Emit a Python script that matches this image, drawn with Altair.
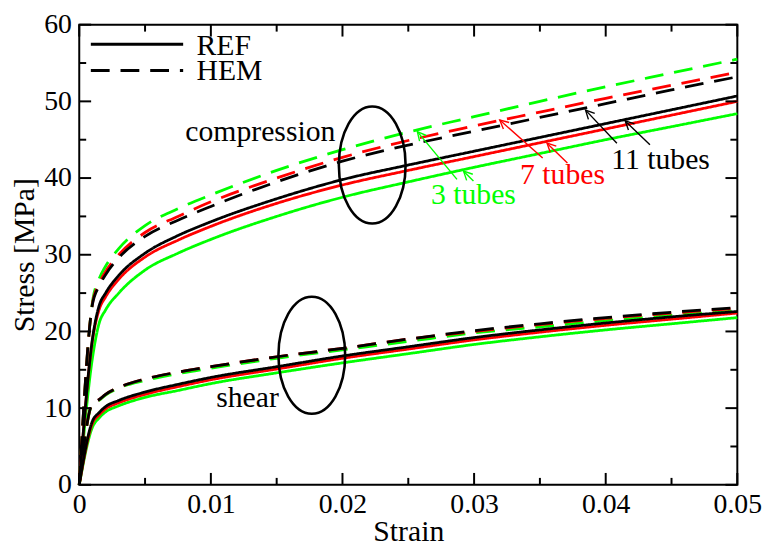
import math
import altair as alt
import pandas as pd

# ---------------- data ----------------
STRAIN = [0, 0.001, 0.0015, 0.002, 0.003, 0.005, 0.0075, 0.01, 0.015,
          0.02, 0.025, 0.03, 0.035, 0.04, 0.045, 0.05]

# compression
COMP_REF_3 = [0, 16.5, 21.0, 22.8, 25.0, 28.0, 30.2, 32.0, 35.0, 37.5, 39.5, 41.4, 43.2, 45.0, 46.7, 48.4]
COMP_REF_7 = [0, 18.8, 22.8, 24.5, 26.8, 29.7, 31.9, 33.7, 36.7, 39.1, 41.0, 42.8, 44.6, 46.4, 48.2, 50.0]
COMP_REF_11 = [0, 19.0, 23.3, 25.0, 27.3, 30.2, 32.5, 34.3, 37.3, 39.8, 41.7, 43.5, 45.3, 47.1, 48.9, 50.7]
COMP_HEM_3 = [0, 23.8, 26.8, 28.5, 30.8, 33.8, 36.0, 37.8, 41.0, 43.7, 46.0, 48.0, 50.0, 51.9, 53.7, 55.5]
COMP_HEM_7 = [0, 23.6, 26.2, 27.8, 30.0, 32.9, 35.0, 36.9, 40.0, 42.7, 44.9, 46.8, 48.6, 50.4, 52.1, 53.8]
COMP_HEM_11 = [0, 23.5, 25.9, 27.4, 29.6, 32.4, 34.5, 36.3, 39.5, 42.2, 44.3, 46.1, 47.9, 49.7, 51.5, 53.2]

# shear
SHEAR_REF_3 = [0, 7.5, 8.7, 9.5, 10.3, 11.4, 12.3, 13.2, 14.6, 15.9, 17.1, 18.3, 19.3, 20.2, 21.0, 21.8]
SHEAR_REF_7 = [0, 8.0, 9.1, 9.9, 10.7, 11.8, 12.8, 13.7, 15.1, 16.5, 17.7, 18.9, 19.9, 20.8, 21.6, 22.4]
SHEAR_REF_11 = [0, 8.3, 9.4, 10.2, 11.0, 12.1, 13.1, 14.0, 15.4, 16.8, 18.0, 19.2, 20.2, 21.1, 21.9, 22.6]
SHEAR_HEM_3 = [0, 10.5, 11.0, 11.7, 12.6, 13.6, 14.5, 15.2, 16.5, 17.6, 18.7, 19.8, 20.6, 21.4, 22.1, 22.7]
SHEAR_HEM_7 = [0, 10.6, 11.1, 11.8, 12.7, 13.8, 14.7, 15.4, 16.7, 17.8, 19.0, 20.0, 20.9, 21.7, 22.4, 23.0]
SHEAR_HEM_11 = [0, 10.6, 11.1, 11.8, 12.7, 13.8, 14.7, 15.4, 16.7, 17.8, 19.0, 20.1, 21.0, 21.8, 22.5, 23.1]

TUBES = [3, 7, 11]
TUBE_COLORS = {3: "#00ff00", 7: "#ff0000", 11: "#000000"}

# annotation texts
LABEL_TEXT = ["compression", "shear", "3 tubes", "7 tubes", "11 tubes"]
LABEL_X = [0.01376, 0.01278, 0.02995, 0.03672, 0.04417]
LABEL_Y = [44.86, 10.15, 36.6, 39.19, 41.12]
LABEL_COLOR = ["#000000", "#000000", "#00ff00", "#ff0000", "#000000"]

# ellipses (centres)
ELL_X = [0.02226, 0.01767]
ELL_Y = [41.7, 16.9]

# arrows: start -> tip
ARR_X1 = [0.02870, 0.02995, 0.03521, 0.03709, 0.04085, 0.04336]
ARR_Y1 = [39.83, 39.61, 42.62, 41.97, 44.55, 44.35]
ARR_X2 = [0.02569, 0.02920, 0.03195, 0.03554, 0.03847, 0.04148]
ARR_Y2 = [46.06, 40.90, 47.57, 44.55, 48.86, 47.45]
ARR_COLOR = ["#00ff00", "#00ff00", "#ff0000", "#ff0000", "#000000", "#000000"]

X_MAJOR = [0, 0.01, 0.02, 0.03, 0.04, 0.05]
X_MINOR = [0.005, 0.015, 0.025, 0.035, 0.045]
Y_MAJOR = [0, 10, 20, 30, 40, 50, 60]
Y_MINOR = [5, 15, 25, 35, 45, 55]

# ---------------- layout ----------------
W, H = 665, 465
XMAX, YMAX = 0.05, 60
FONT = "Liberation Serif"
LW = 2.8
DASH = [19, 11]

series = {
    ("compression", "REF", 3): COMP_REF_3, ("compression", "REF", 7): COMP_REF_7,
    ("compression", "REF", 11): COMP_REF_11, ("compression", "HEM", 3): COMP_HEM_3,
    ("compression", "HEM", 7): COMP_HEM_7, ("compression", "HEM", 11): COMP_HEM_11,
    ("shear", "REF", 3): SHEAR_REF_3, ("shear", "REF", 7): SHEAR_REF_7,
    ("shear", "REF", 11): SHEAR_REF_11, ("shear", "HEM", 3): SHEAR_HEM_3,
    ("shear", "HEM", 7): SHEAR_HEM_7, ("shear", "HEM", 11): SHEAR_HEM_11,
}
rows = []
for (load, model, tubes), vals in series.items():
    for s, v in zip(STRAIN, vals):
        rows.append({"strain": s, "stress": v, "load": load, "model": model,
                     "tubes": tubes, "key": f"{load}-{model}"})
df = pd.DataFrame(rows)

x_scale = alt.Scale(domain=[0, XMAX], nice=False, zero=False)
y_scale = alt.Scale(domain=[0, YMAX], nice=False, zero=False)

x_axis = alt.Axis(values=X_MAJOR, format="~g", title="Strain", grid=False,
                  ticks=False, domain=False, labelFont=FONT, labelFontSize=28,
                  labelColor="black", labelPadding=6, labelFlush=False,
                  titleFont=FONT, titleFontSize=30, titleFontWeight="normal",
                  titleColor="black", titleX=W / 2, titleY=56.3,
                  titleBaseline="alphabetic", titleAlign="center")
y_axis = alt.Axis(values=Y_MAJOR, title="Stress [MPa]", grid=False,
                  ticks=False, domain=False, labelFont=FONT, labelFontSize=28,
                  labelColor="black", labelPadding=8, labelFlush=False,
                  titleFont=FONT, titleFontSize=30, titleFontWeight="normal",
                  titleColor="black", titleAngle=270, titleX=-46, titleY=H / 2,
                  titleBaseline="alphabetic", titleAlign="center")

layers = []
for t in TUBES:
    layers.append(
        alt.Chart(df[df.tubes == t]).mark_line(
            color=TUBE_COLORS[t], strokeWidth=LW, interpolate="monotone"
        ).encode(
            x=alt.X("strain:Q", scale=x_scale, axis=x_axis),
            y=alt.Y("stress:Q", scale=y_scale, axis=y_axis),
            strokeDash=alt.StrokeDash("model:N", scale=alt.Scale(
                domain=["REF", "HEM"], range=[[1, 0], DASH]), legend=None),
            detail="key:N",
        )
    )

# ellipses as custom symbols (cubic-bezier ellipse, aspect 0.57)
a = 0.57
k = 0.5523
ka = k * a
ELL_PATH = (f"M0,-1 C{ka:.4f},-1 {a},-{k} {a},0 C{a},{k} {ka:.4f},1 0,1 "
            f"C-{ka:.4f},1 -{a},{k} -{a},0 C-{a},-{k} -{ka:.4f},-1 0,-1 Z")
ell_df = pd.DataFrame({"strain": ELL_X, "stress": ELL_Y})
layers.append(
    alt.Chart(ell_df).mark_point(shape=ELL_PATH, filled=False, color="black",
                                 strokeWidth=2.6, size=14000, opacity=1).encode(
        x=alt.X("strain:Q", scale=x_scale), y=alt.Y("stress:Q", scale=y_scale))
)

# arrows
sx, sy = W / XMAX, H / YMAX
angles = []
for x1, y1, x2, y2 in zip(ARR_X1, ARR_Y1, ARR_X2, ARR_Y2):
    dx = (x2 - x1) * sx
    dy = -(y2 - y1) * sy
    angles.append(math.degrees(math.atan2(dx, -dy)) % 360)
arr_df = pd.DataFrame({"strain": ARR_X1, "stress": ARR_Y1, "strain2": ARR_X2,
                       "stress2": ARR_Y2, "color": ARR_COLOR, "angle": angles})
layers.append(
    alt.Chart(arr_df).mark_rule(strokeWidth=1.4).encode(
        x=alt.X("strain:Q", scale=x_scale), y=alt.Y("stress:Q", scale=y_scale),
        x2="strain2:Q", y2="stress2:Q",
        color=alt.Color("color:N", scale=None))
)
HEAD = "M-0.55,1.1 L0,0 L0.55,1.1"
layers.append(
    alt.Chart(arr_df).mark_point(shape=HEAD, filled=False, size=256,
                                 strokeWidth=1.4, opacity=1).encode(
        x=alt.X("strain2:Q", scale=x_scale), y=alt.Y("stress2:Q", scale=y_scale),
        angle=alt.Angle("angle:Q", scale=None),
        color=alt.Color("color:N", scale=None))
)

# text labels
lab_df = pd.DataFrame({"strain": LABEL_X, "stress": LABEL_Y,
                       "text": LABEL_TEXT, "color": LABEL_COLOR})
layers.append(
    alt.Chart(lab_df).mark_text(font=FONT, fontSize=30, align="center",
                                baseline="alphabetic").encode(
        x=alt.X("strain:Q", scale=x_scale), y=alt.Y("stress:Q", scale=y_scale),
        text="text:N", color=alt.Color("color:N", scale=None))
)

# inward ticks on all four sides
one = pd.DataFrame({"d": [0]})
for vals, ln in ((X_MAJOR, 12), (X_MINOR, 7)):
    tdf = pd.DataFrame({"strain": vals})
    layers.append(alt.Chart(tdf).mark_rule(color="black", strokeWidth=2).encode(
        x=alt.X("strain:Q", scale=x_scale), y=alt.value(H), y2=alt.value(H - ln)))
    layers.append(alt.Chart(tdf).mark_rule(color="black", strokeWidth=2).encode(
        x=alt.X("strain:Q", scale=x_scale), y=alt.value(0), y2=alt.value(ln)))
for vals, ln in ((Y_MAJOR, 12), (Y_MINOR, 7)):
    tdf = pd.DataFrame({"stress": vals})
    layers.append(alt.Chart(tdf).mark_rule(color="black", strokeWidth=2).encode(
        y=alt.Y("stress:Q", scale=y_scale), x=alt.value(0), x2=alt.value(ln)))
    layers.append(alt.Chart(tdf).mark_rule(color="black", strokeWidth=2).encode(
        y=alt.Y("stress:Q", scale=y_scale), x=alt.value(W), x2=alt.value(W - ln)))

# legend (top-left, no frame)
layers.append(alt.Chart(one).mark_rule(color="black", strokeWidth=3).encode(
    x=alt.value(11.7), x2=alt.value(105), y=alt.value(19.7)))
layers.append(alt.Chart(one).mark_rule(color="black", strokeWidth=3,
                                       strokeDash=DASH).encode(
    x=alt.value(11.7), x2=alt.value(105), y=alt.value(46.3)))
layers.append(alt.Chart(one).mark_text(text="REF", font=FONT, fontSize=30,
                                       align="left", baseline="alphabetic",
                                       color="black").encode(
    x=alt.value(118.5), y=alt.value(30.3)))
layers.append(alt.Chart(one).mark_text(text="HEM", font=FONT, fontSize=30,
                                       align="left", baseline="alphabetic",
                                       color="black").encode(
    x=alt.value(118.5), y=alt.value(56.3)))

chart = alt.layer(*layers).properties(
    width=W, height=H,
    autosize=alt.AutoSizeParams(type="none"),
    padding={"left": 72, "top": 14, "right": 31, "bottom": 62},
    background="white",
).configure_view(stroke="black", strokeWidth=2)

chart.save("out.html", embed_options={"renderer": "svg", "actions": False})
